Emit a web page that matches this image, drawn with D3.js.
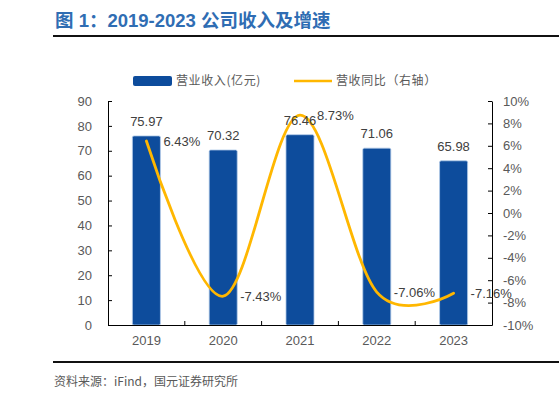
<!DOCTYPE html>
<html lang="zh">
<head>
<meta charset="UTF-8" />
<title>2019-2023 公司收入及增速</title>
<script src="https://cdn.jsdelivr.net/npm/d3@7/dist/d3.min.js"></script>
<style>
    body { margin: 0; background: #fff; }
    svg { display: block; }
</style>
</head>
<body>
<script>
    // 数据
    const years = ['2019', '2020', '2021', '2022', '2023'];
    const revenue = [75.97, 70.32, 76.46, 71.06, 65.98];   // 营业收入(亿元)
    const growth = [6.43, -7.43, 8.73, -7.06, -7.16];      // 营收同比 %
    const leftTicks = [0, 10, 20, 30, 40, 50, 60, 70, 80, 90];
    const rightTicks = [-10, -8, -6, -4, -2, 0, 2, 4, 6, 8, 10];

    const width = 559, height = 397;
    const plot = { left: 108, right: 492, top: 101, bottom: 325 };
    const cjk = '"Noto Sans CJK SC", sans-serif';
    const latin = '"Liberation Sans", Arial, sans-serif';
    const gray = '#595959';

    const svg = d3.select('body').append('svg')
        .attr('width', width)
        .attr('height', height);

    // 标题
    svg.append('text')
        .attr('x', 55).attr('y', 27)
        .attr('font-family', latin + ',' + cjk)
        .attr('font-size', 18.5)
        .attr('font-weight', 'bold')
        .attr('fill', '#2f6db3')
        .text('图 1：2019-2023 公司收入及增速');

    svg.append('line')
        .attr('x1', 53).attr('x2', width).attr('y1', 36).attr('y2', 36)
        .attr('stroke', '#111').attr('stroke-width', 1.8);

    svg.append('line')
        .attr('x1', 53).attr('x2', width).attr('y1', 362).attr('y2', 362)
        .attr('stroke', '#111').attr('stroke-width', 1.8);

    svg.append('text')
        .attr('x', 54).attr('y', 386)
        .attr('font-family', cjk)
        .attr('font-size', 12)
        .attr('fill', gray)
        .text('资料来源：iFind，国元证券研究所');

    const x = d3.scaleBand()
        .domain(years)
        .range([plot.left, plot.right])
        .paddingInner(0.635)
        .paddingOuter(0.3175);

    const yL = d3.scaleLinear().domain([0, 90]).range([plot.bottom, plot.top]);
    const yR = d3.scaleLinear().domain([-10, 10]).range([plot.bottom, plot.top]);
    const cx = d => x(d) + x.bandwidth() / 2;

    // 图例
    const legend = svg.append('g')
        .attr('font-family', cjk)
        .attr('font-size', 12)
        .attr('fill', gray);
    legend.append('rect')
        .attr('x', 133).attr('y', 76).attr('width', 39).attr('height', 10)
        .attr('rx', 2).attr('fill', '#0d4c9c');
    legend.append('text')
        .attr('x', 176).attr('y', 85)
        .attr('letter-spacing', 0.6)
        .text('营业收入(亿元)');
    legend.append('line')
        .attr('x1', 294).attr('x2', 332).attr('y1', 81).attr('y2', 81)
        .attr('stroke', '#ffb700').attr('stroke-width', 2.5);
    legend.append('text')
        .attr('x', 336).attr('y', 85)
        .attr('letter-spacing', 0.6)
        .text('营收同比（右轴）');

    // 柱
    svg.append('g')
        .selectAll('rect')
        .data(years)
        .join('rect')
        .attr('x', d => x(d))
        .attr('y', (d, i) => yL(revenue[i]))
        .attr('width', x.bandwidth())
        .attr('height', (d, i) => yL(0) - yL(revenue[i]))
        .attr('rx', 1.5)
        .attr('fill', '#0d4c9c')
        .attr('stroke', '#b4cbe8')
        .attr('stroke-width', 0.8);

    // 坐标轴
    const styleAxis = g => {
        g.selectAll('text')
            .attr('fill', gray)
            .attr('font-family', latin)
            .attr('font-size', 13);
        g.selectAll('line').attr('stroke', '#000');
        g.select('.domain').attr('stroke', '#000');
    };

    svg.append('g')
        .attr('transform', `translate(${plot.left},0)`)
        .call(d3.axisLeft(yL).tickValues(leftTicks).tickSize(-4).tickSizeOuter(0).tickPadding(16))
        .call(styleAxis);

    svg.append('g')
        .attr('transform', `translate(${plot.right},0)`)
        .call(d3.axisRight(yR).tickValues(rightTicks).tickSize(-4).tickSizeOuter(0).tickPadding(11)
            .tickFormat(d => d + '%'))
        .call(styleAxis);

    const xAxis = svg.append('g')
        .attr('transform', `translate(0,${plot.bottom})`)
        .call(d3.axisBottom(x).tickSize(0).tickSizeOuter(0).tickPadding(11))
        .call(styleAxis);
    xAxis.selectAll('.sep')
        .data(years.slice(1))
        .join('line')
        .attr('class', 'sep')
        .attr('x1', d => x(d) - x.step() * x.paddingInner() / 2)
        .attr('x2', d => x(d) - x.step() * x.paddingInner() / 2)
        .attr('y1', 0).attr('y2', -4)
        .attr('stroke', '#000');

    // 折线
    const line = d3.line()
        .x((d, i) => cx(years[i]))
        .y(d => yR(d))
        .curve(d3.curveCardinal.tension(0));

    svg.append('path')
        .datum(growth)
        .attr('d', line)
        .attr('fill', 'none')
        .attr('stroke', '#ffb700')
        .attr('stroke-width', 2.8)
        .attr('stroke-linecap', 'round');

    // 数据标签
    svg.append('g')
        .attr('font-family', latin)
        .attr('font-size', 13)
        .attr('fill', '#404040')
        .attr('text-anchor', 'middle')
        .selectAll('text')
        .data(years)
        .join('text')
        .attr('x', d => cx(d))
        .attr('y', (d, i) => yL(revenue[i]) - 10)
        .text((d, i) => revenue[i].toFixed(2));

    svg.append('g')
        .attr('font-family', latin)
        .attr('font-size', 13)
        .attr('fill', '#404040')
        .selectAll('text')
        .data(years)
        .join('text')
        .attr('x', d => cx(d) + 17)
        .attr('y', (d, i) => yR(growth[i]) + 5)
        .text((d, i) => growth[i].toFixed(2) + '%');
</script>
</body>
</html>
